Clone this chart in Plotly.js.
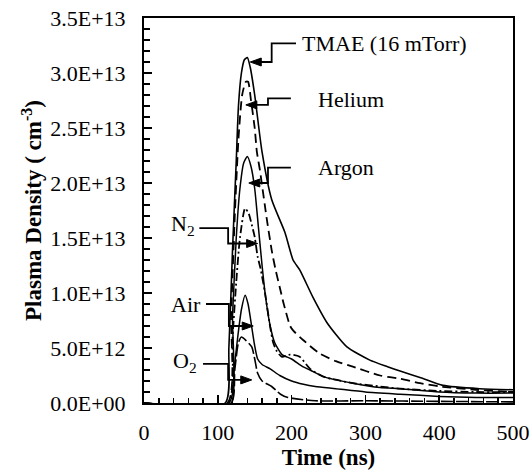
<!DOCTYPE html>
<html>
<head>
<meta charset="utf-8">
<script src="https://cdn.plot.ly/plotly-3.0.1.min.js"></script>
<style>html,body{margin:0;padding:0;background:#fff;}#chart{width:532px;height:476px;}</style>
</head>
<body>
<div id="chart"></div>
<script>
// Time (ns) and plasma density (cm^-3) for each gas
const tmaeT = [0, 110, 115, 120, 125, 128, 132, 136, 140, 144, 150, 160, 173, 191, 202, 211, 229, 248, 275, 306, 330, 347, 375, 405, 455, 500];
const tmaeN = [0, 0, 0.5e13, 1.4e13, 2.2e13, 2.7e13, 3.0e13, 3.12e13, 3.14e13, 3.05e13, 2.8e13, 2.28e13, 1.85e13, 1.55e13, 1.3e13, 1.21e13, 0.96e13, 0.73e13, 0.51e13, 0.39e13, 0.33e13, 0.29e13, 0.23e13, 0.16e13, 0.13e13, 0.12e13];

const heliumT = [0, 113, 118, 123, 128, 133, 138, 141, 145, 150, 153, 157, 166, 173, 178, 184, 189, 198, 202, 216, 238, 260, 283, 320, 347, 374, 401, 450, 500];
const heliumN = [0, 0, 0.8e13, 1.7e13, 2.4e13, 2.8e13, 2.92e13, 2.92e13, 2.75e13, 2.5e13, 2.28e13, 2.12e13, 1.69e13, 1.39e13, 1.22e13, 1.05e13, 0.91e13, 0.7e13, 0.66e13, 0.57e13, 0.45e13, 0.38e13, 0.33e13, 0.25e13, 0.22e13, 0.18e13, 0.15e13, 0.12e13, 0.1e13];

const argonT = [0, 115, 120, 125, 130, 135, 140, 145, 150, 155, 160, 165, 171, 177, 187, 200, 215, 225, 243, 283, 320, 347, 400, 450, 500];
const argonN = [0, 0, 0.8e13, 1.5e13, 1.95e13, 2.18e13, 2.24e13, 2.15e13, 1.95e13, 1.6e13, 1.25e13, 0.95e13, 0.7e13, 0.55e13, 0.44e13, 0.40e13, 0.33e13, 0.30e13, 0.24e13, 0.18e13, 0.14e13, 0.13e13, 0.1e13, 0.09e13, 0.09e13];

const n2T = [0, 114, 120, 125, 130, 137, 142, 146, 150, 154, 158, 164, 171, 175, 180, 187, 198, 211, 225, 243, 283, 320, 347, 400, 450, 500];
const n2N = [0, 0, 0.6e13, 1.1e13, 1.5e13, 1.77e13, 1.72e13, 1.62e13, 1.51e13, 1.33e13, 1.22e13, 1.0e13, 0.69e13, 0.55e13, 0.47e13, 0.42e13, 0.44e13, 0.42e13, 0.31e13, 0.24e13, 0.18e13, 0.15e13, 0.13e13, 0.11e13, 0.1e13, 0.1e13];

const airT = [0, 118, 122, 127, 132, 137, 141, 146, 150, 154, 160, 171, 184, 200, 216, 232, 260, 300, 347, 400, 450, 500];
const airN = [0, 0, 0.3e13, 0.6e13, 0.85e13, 0.98e13, 0.9e13, 0.69e13, 0.52e13, 0.4e13, 0.35e13, 0.31e13, 0.25e13, 0.2e13, 0.17e13, 0.15e13, 0.13e13, 0.1e13, 0.08e13, 0.06e13, 0.05e13, 0.05e13];

const o2T = [0, 118, 123, 128, 132, 138, 146, 150, 154, 160, 173, 185, 195, 232, 300, 400, 500];
const o2N = [0, 0, 0.3e13, 0.55e13, 0.6e13, 0.57e13, 0.51e13, 0.4e13, 0.27e13, 0.2e13, 0.15e13, 0.08e13, 0.05e13, 0.02e13, 0.02e13, 0.015e13, 0.01e13];

const yTickVals = [0, 5e12, 1e13, 1.5e13, 2e13, 2.5e13, 3e13, 3.5e13];
const yTickText = ["0.0E+00", "5.0E+12", "1.0E+13", "1.5E+13", "2.0E+13", "2.5E+13", "3.0E+13", "3.5E+13"];
const xTickVals = [0, 100, 200, 300, 400, 500];

// Callout label texts
const labelText = ["TMAE (16 mTorr)", "Helium", "Argon", "N<sub>2</sub>", "Air", "O<sub>2</sub>"];

const FONT = "Liberation Serif, Times New Roman, serif";
const C = "#000";

function tr(name, x, y, dash, width) {
  return {name: name, x: x, y: y, type: "scatter", mode: "lines",
    line: {color: C, width: width, dash: dash, shape: "spline", smoothing: 0.6},
    hoverinfo: "skip", showlegend: false};
}

const data = [
  tr("TMAE", tmaeT, tmaeN, "solid", 1.6),
  tr("Helium", heliumT, heliumN, "9px,5px", 1.8),
  tr("Argon", argonT, argonN, "solid", 1.5),
  tr("N2", n2T, n2N, "8px,3px,2px,3px", 1.8),
  tr("Air", airT, airN, "solid", 1.5),
  tr("O2", o2T, o2N, "12px,3px", 1.6)
];

// callout geometry (label anchor, elbow, arrow tip) in data coordinates
const callouts = [
  {text: labelText[0], tx: 212, ty: 3.27e13, x0: 206, y0: 3.27e13, xm: 173, y1: 3.10e13, ax: 144, side: "left"},
  {text: labelText[1], tx: 233, ty: 2.76e13, x0: 199, y0: 2.77e13, xm: 168, y1: 2.71e13, ax: 138, side: "left"},
  {text: labelText[2], tx: 233, ty: 2.14e13, x0: 199, y0: 2.14e13, xm: 168, y1: 2.00e13, ax: 142, side: "left"},
  {text: labelText[3], tx: 72, ty: 1.62e13, x0: 75, y0: 1.59e13, xm: 114, y1: 1.45e13, ax: 154, side: "right"},
  {text: labelText[4], tx: 80, ty: 0.90e13, x0: 84, y0: 0.90e13, xm: 115, y1: 0.70e13, ax: 148, side: "right"},
  {text: labelText[5], tx: 74, ty: 0.37e13, x0: 80, y0: 0.355e13, xm: 114, y1: 0.21e13, ax: 146, side: "right"}
];

const shapes = [];
const annotations = [];
callouts.forEach(c => {
  const dir = c.side === "left" ? 1 : -1;
  shapes.push({type: "path", xref: "x", yref: "y",
    path: `M ${c.x0},${c.y0} L ${c.xm},${c.y0} L ${c.xm},${c.y1} L ${c.ax + dir * 6},${c.y1}`,
    line: {color: C, width: 1.8}});
  // arrowhead (pixel-sized triangle anchored at the tip)
  shapes.push({type: "path", xref: "x", yref: "y",
    xsizemode: "pixel", ysizemode: "pixel", xanchor: c.ax, yanchor: c.y1,
    path: `M 0,0 L ${dir * 11},4 L ${dir * 11},-4 Z`,
    fillcolor: C, line: {color: C, width: 1}});
  annotations.push({x: c.tx, y: c.ty, xref: "x", yref: "y", text: c.text, showarrow: false,
    xanchor: c.side === "left" ? "left" : "right", yanchor: "middle",
    font: {family: FONT, size: 22, color: C}});
});

const layout = {
  width: 532, height: 476,
  margin: {l: 144, r: 19, t: 18, b: 73},
  paper_bgcolor: "#fff", plot_bgcolor: "#fff",
  font: {family: FONT, size: 22, color: C},
  showlegend: false,
  xaxis: {
    range: [0, 500], autorange: false,
    tickvals: xTickVals, ticks: "inside", ticklen: 8, tickwidth: 1.5, tickcolor: C,
    minor: {dtick: 20, ticks: "inside", ticklen: 5, tickwidth: 1.5, tickcolor: C},
    showline: true, linecolor: C, linewidth: 2, mirror: true,
    showgrid: false, zeroline: false,
    tickfont: {family: FONT, size: 22, color: C}, ticklabelstandoff: 9,
    title: {text: "<b>Time (ns)</b>", font: {family: FONT, size: 23, color: C}, standoff: 3}
  },
  yaxis: {
    range: [0, 3.5e13], autorange: false,
    tickvals: yTickVals, ticktext: yTickText, ticks: "inside", ticklen: 8, tickwidth: 1.5, tickcolor: C,
    minor: {dtick: 1e12, tick0: 0, ticks: "inside", ticklen: 6, tickwidth: 1.5, tickcolor: C},
    showline: true, linecolor: C, linewidth: 2, mirror: true,
    showgrid: false, zeroline: false,
    tickfont: {family: FONT, size: 22, color: C}, ticklabelstandoff: 12,
    title: {text: "<b>Plasma Density ( cm<sup>-3</sup>)</b>", font: {family: FONT, size: 23, color: C}, standoff: 2}
  },
  shapes: shapes,
  annotations: annotations
};

Plotly.newPlot("chart", data, layout, {displayModeBar: false, staticPlot: true});
</script>
</body>
</html>
